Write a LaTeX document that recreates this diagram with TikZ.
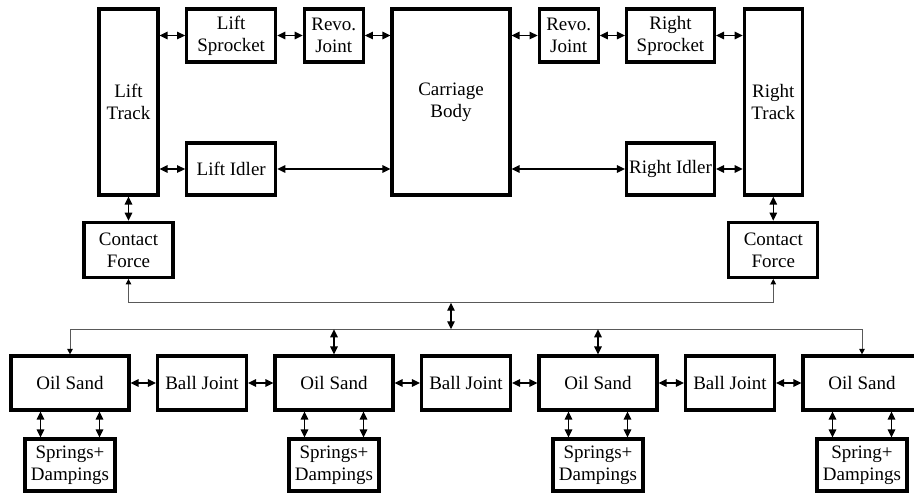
\documentclass[tikz,border=0pt]{standalone}
\usepackage{fontspec}
\setmainfont{Liberation Serif}
\usetikzlibrary{arrows.meta}
\begin{document}
\begin{tikzpicture}[x=1pt,y=-1pt,
  blk/.style={draw, line width=3.2pt, inner sep=0pt, align=center,
    font=\fontsize{19}{22}\selectfont},
  dbl/.style={{Triangle[length=8pt,width=7.5pt]}-{Triangle[length=8pt,width=7.5pt]}, line width=1.3pt},
  bus/.style={{Triangle[length=5.5pt,width=5.5pt,color=black]}-{Triangle[length=5.5pt,width=5.5pt,color=black]}, line width=1pt, draw=black!65},
  ]
\clip (0,0) rectangle (914,493);
% top
\node[blk, minimum width=59pt, minimum height=186pt] (LT) at (128.5,102) {Lift\\Track};
\node[blk, minimum width=89pt, minimum height=53pt] (LS) at (231.2,35.5) {Lift\\Sprocket};
\node[blk, minimum width=59pt, minimum height=53pt] (RJ1) at (333.8,35.5) {Revo.\\Joint};
\node[blk, minimum width=118pt, minimum height=186pt] (CB) at (451,102) {Carriage\\Body};
\node[blk, minimum width=89pt, minimum height=52pt] (LI) at (231.2,169) {Lift Idler};
\node[blk, minimum width=59pt, minimum height=53pt] (RJ2) at (568.7,35.5) {Revo.\\Joint};
\node[blk, minimum width=88pt, minimum height=53pt] (RS) at (670.5,35.5) {Right\\Sprocket};
\node[blk, minimum width=88pt, minimum height=52pt] (RI) at (670.5,169) {Right Idler};
\node[blk, minimum width=58pt, minimum height=186pt] (RT) at (773.3,102) {Right\\Track};
% contact
\node[blk, minimum width=89pt, minimum height=55pt] (CF1) at (128.5,249.8) {Contact\\Force};
\node[blk, minimum width=89pt, minimum height=55pt] (CF2) at (773.3,249.8) {Contact\\Force};
% bottom
\node[blk, minimum width=118pt, minimum height=54pt] (OS1) at (70,383) {Oil Sand};
\node[blk, minimum width=89pt, minimum height=54pt] (BJ1) at (202,383) {Ball Joint};
\node[blk, minimum width=118pt, minimum height=54pt] (OS2) at (334,383) {Oil Sand};
\node[blk, minimum width=89pt, minimum height=54pt] (BJ2) at (466,383) {Ball Joint};
\node[blk, minimum width=118pt, minimum height=54pt] (OS3) at (598,383) {Oil Sand};
\node[blk, minimum width=89pt, minimum height=54pt] (BJ3) at (730,383) {Ball Joint};
\node[blk, minimum width=118pt, minimum height=54pt] (OS4) at (862,383) {Oil Sand};
\node[blk, minimum width=90pt, minimum height=52pt] (SD1) at (70,465) {Springs+\\Dampings};
\node[blk, minimum width=90pt, minimum height=52pt] (SD2) at (334,465) {Springs+\\Dampings};
\node[blk, minimum width=90pt, minimum height=52pt] (SD3) at (598,465) {Springs+\\Dampings};
\node[blk, minimum width=90pt, minimum height=52pt] (SD4) at (862,465) {Spring+\\Dampings};
% top connectors
\draw[dbl] (LT.east |- LS) -- (LS.west);
\draw[dbl] (LS.east) -- (RJ1.west);
\draw[dbl] (RJ1.east) -- (CB.west |- RJ1);
\draw[dbl] (CB.east |- RJ2) -- (RJ2.west);
\draw[dbl] (RJ2.east) -- (RS.west);
\draw[dbl] (RS.east) -- (RT.west |- RS);
\draw[dbl] (LT.east |- LI) -- (LI.west);
\draw[dbl] (LI.east) -- (CB.west |- LI);
\draw[dbl] (CB.east |- RI) -- (RI.west);
\draw[dbl] (RI.east) -- (RT.west |- RI);
\draw[dbl] (LT.south) -- (CF1.north);
\draw[dbl] (RT.south) -- (CF2.north);
% buses
\coordinate (busA) at (451,302.7);
\coordinate (busB) at (451,329.3);
\draw[bus] (CF1.south) |- (busA) -| (CF2.south);
\draw[bus] (OS1.north) |- (busB) -| (OS4.north);
\draw[dbl] (busA) -- (busB);
\draw[dbl] (OS2.north |- busB) -- (OS2.north);
\draw[dbl] (OS3.north |- busB) -- (OS3.north);
% bottom row
\draw[dbl] (OS1.east) -- (BJ1.west);
\draw[dbl] (BJ1.east) -- (OS2.west);
\draw[dbl] (OS2.east) -- (BJ2.west);
\draw[dbl] (BJ2.east) -- (OS3.west);
\draw[dbl] (OS3.east) -- (BJ3.west);
\draw[dbl] (BJ3.east) -- (OS4.west);
\foreach \i in {1,2,3,4}{
  \draw[dbl] ([xshift=-29.5pt]OS\i.south) -- ([xshift=-29.5pt]SD\i.north);
  \draw[dbl] ([xshift=29.5pt]OS\i.south) -- ([xshift=29.5pt]SD\i.north);
}
\end{tikzpicture}
\end{document}
